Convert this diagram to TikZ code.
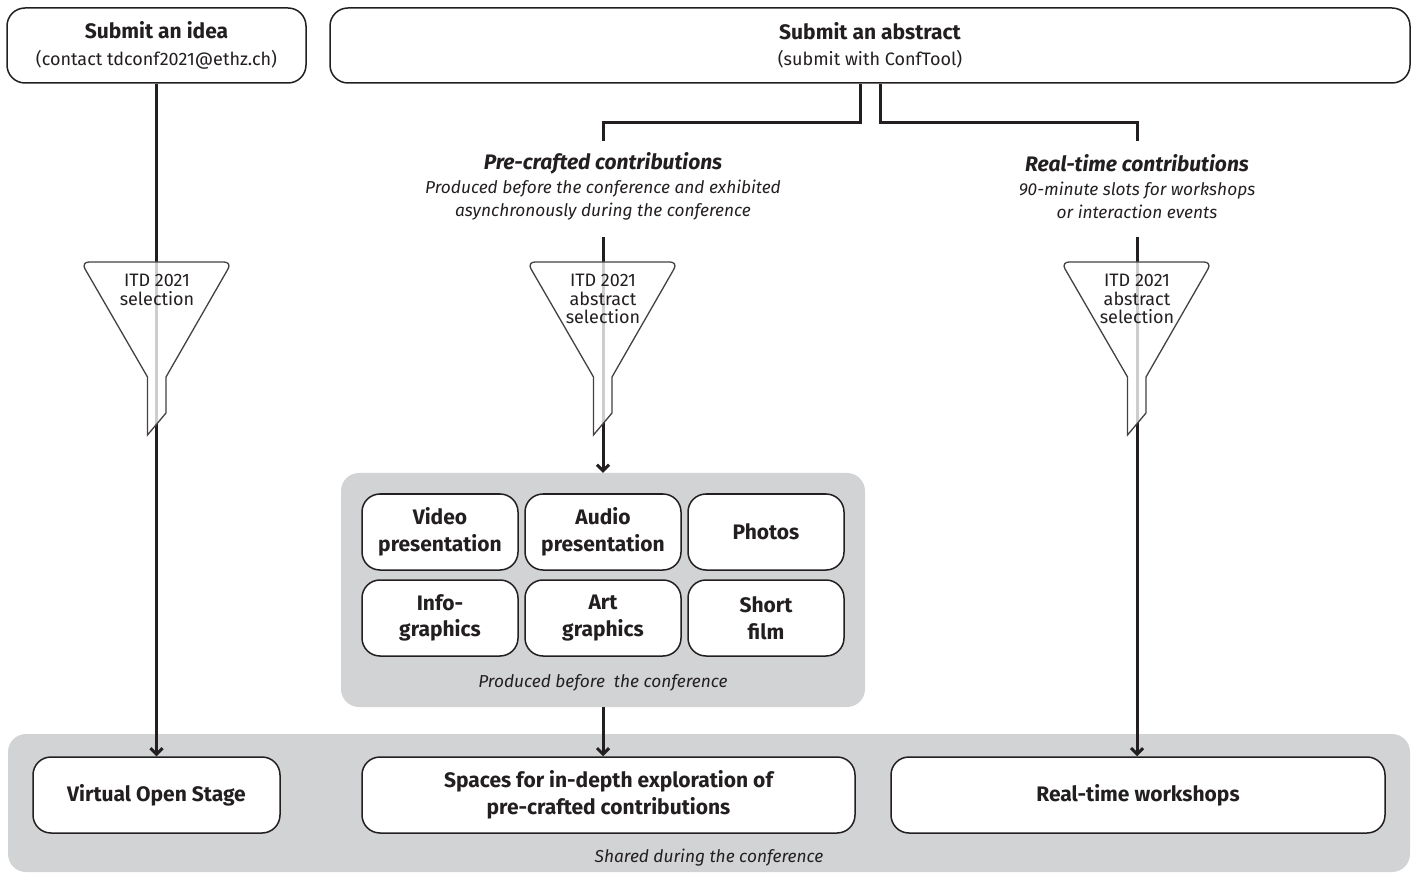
\documentclass[tikz,border=0pt]{standalone}
\usepackage{fontspec}
\setmainfont{Fira Sans}
\usetikzlibrary{arrows.meta}

\definecolor{ink}{HTML}{231F20}
\definecolor{shade}{HTML}{D1D3D4}

\tikzset{
  box/.style={draw=ink, line width=1.5pt, rounded corners=18pt, fill=white, align=center, inner sep=0pt, text=ink, font=\bfseries\fontsize{21}{26.5}\selectfont},
  group/.style={fill=shade, rounded corners=18pt, inner sep=0pt},
  flow/.style={draw=ink, line width=3pt},
  arrowed/.style={flow, -{Straight Barb[length=6pt,width=12pt]}},
  heading/.style={inner sep=0pt, text=ink, font=\bfseries\itshape\fontsize{21}{23}\selectfont},
  note/.style={inner sep=0pt, align=center, text=ink, font=\itshape\fontsize{17.3}{23}\selectfont},
  funnel/.style={draw=ink!85, line width=1.3pt, fill=white, fill opacity=0.78},
  sieve/.style={anchor=north, inner sep=0pt, align=center, text=ink, font=\fontsize{18}{18.5}\selectfont}
}

\begin{document}
\begin{tikzpicture}[x=1pt, y=-1pt]
  \useasboundingbox (0,0) rectangle (1417,874);

  % grey areas
  \node (band) [group, minimum width=1402, minimum height=138] at (709,803) {};
  \node (shared) [note] at (709,858) {Shared during the conference};
  \node (grp) [group, minimum width=524, minimum height=234] at (603,590) {};
  \node (before) [note] at (603,683) {Produced before\ \ the conference};

  % submission
  \node (idea) [box, minimum width=299, minimum height=75] at (156.5,45.5)
    {Submit an idea\\{\mdseries\fontsize{18}{24}\selectfont (contact tdconf2021@ethz.ch)}};
  \node (abstract) [box, minimum width=1080, minimum height=75] at (870,45.5)
    {Submit an abstract\\{\mdseries\fontsize{18}{24}\selectfont (submit with ConfTool)}};

  \node (pretitle) [heading] at (603,163) {Pre-crafted contributions};
  \node (predesc) [note] at (603,200) {Produced before the conference and exhibited\\asynchronously during the conference};
  \node (rttitle) [heading] at (1137,163) {Real-time contributions};
  \node (rtdesc) [note] at (1137,200) {90-minute slots for workshops\\or interaction events};

  \coordinate (prein) at (603,141);
  \coordinate (preout) at (603,237);
  \coordinate (rtin) at (1137,141);
  \coordinate (rtout) at (1137,237);

  % formats
  \node (video) [box, minimum width=156, minimum height=76] at (440,532) {Video\\presentation};
  \node (audio) [box, minimum width=156, minimum height=76] at (603,532) {Audio\\presentation};
  \node (photos) [box, minimum width=156, minimum height=76] at (766,532) {Photos};
  \node (info) [box, minimum width=156, minimum height=76] at (440,618) {Info-\\graphics};
  \node (art) [box, minimum width=156, minimum height=76] at (603,618) {Art\\graphics};
  \node (film) [box, minimum width=156, minimum height=76] at (766,618) {Short\\film};

  % outcomes
  \node (vos) [box, minimum width=247, minimum height=76] at (156.5,795) {Virtual Open Stage};
  \node (spaces) [box, minimum width=493, minimum height=76] at (608.5,795) {Spaces for in-depth exploration of\\pre-crafted contributions};
  \node (rtw) [box, minimum width=494, minimum height=76] at (1138,795) {Real-time workshops};

  % connectors
  \draw[arrowed] (idea) -- (vos);
  \draw[flow] ([xshift=-10pt]abstract.south) -- ++(0,39) -| (prein);
  \draw[flow] ([xshift=10pt]abstract.south) -- ++(0,39) -| (rtin);
  \draw[arrowed] (preout) -- (grp);
  \draw[arrowed] (grp.south) -- (grp.south |- spaces.north);
  \draw[arrowed] (rtout) -- (rtout |- rtw.north);

  % selection funnels
  \foreach \x/\name/\txt in {157/selidea/{ITD 2021\\selection},
                             603/selpre/{ITD 2021\\abstract\\selection},
                             1137/selrt/{ITD 2021\\abstract\\selection}} {
    \filldraw[funnel] (\x-9.5,435) -- (\x-9.5,377) [rounded corners=8pt] -- (\x-76,262)
      -- (\x+75,262) [sharp corners] -- (\x+9,377) -- (\x+9,413) -- cycle;
    \node (\name) [sieve] at (\x,274) {\txt};
  }
\end{tikzpicture}
\end{document}
